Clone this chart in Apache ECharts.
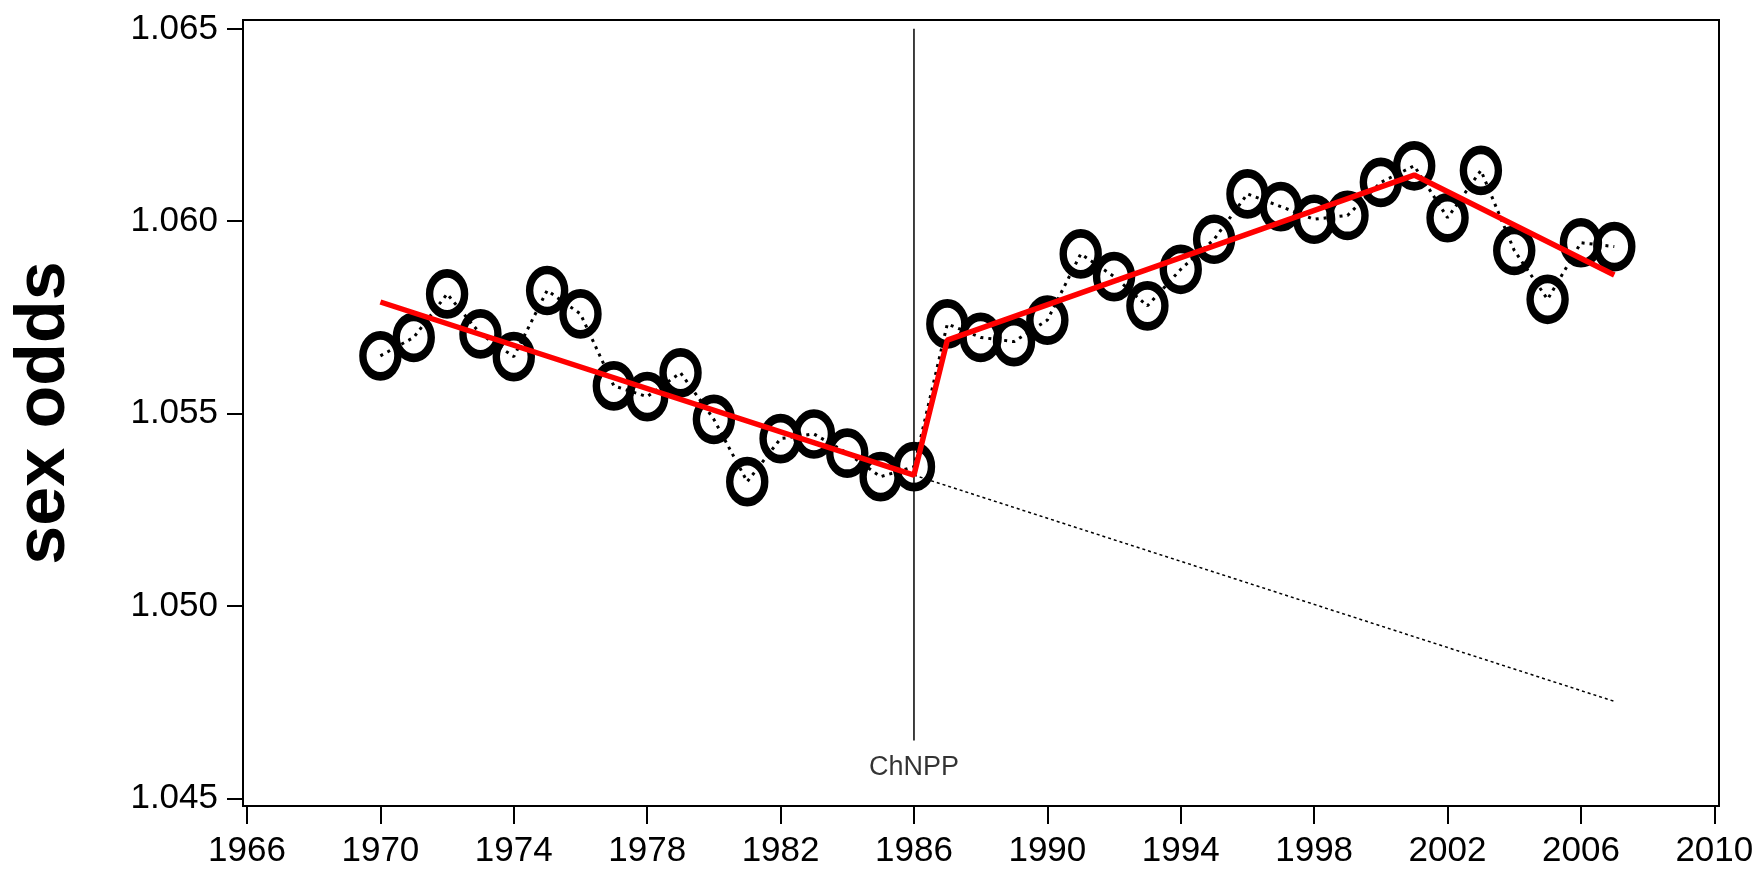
<!DOCTYPE html>
<html style="height: 100%">
  <head>
    <meta charset="UTF-8" />
    <title>sex odds</title>
    <script src="https://cdn.jsdelivr.net/npm/echarts@6/dist/echarts.min.js"></script>
  </head>
  <body style="height: 100%; margin: 0; background: #fff">
    <div id="main" style="width: 1758px; height: 872px"></div>
    <script>
      // yearly sex odds
      var years = [1970, 1971, 1972, 1973, 1974, 1975, 1976, 1977, 1978, 1979,
        1980, 1981, 1982, 1983, 1984, 1985, 1986, 1987, 1988, 1989, 1990, 1991,
        1992, 1993, 1994, 1995, 1996, 1997, 1998, 1999, 2000, 2001, 2002, 2003,
        2004, 2005, 2006, 2007];
      var sexOdds = [1.05650, 1.05698, 1.05811, 1.05707, 1.05648, 1.05820,
        1.05759, 1.05572, 1.05544, 1.05606, 1.05485, 1.05323, 1.05435, 1.05447,
        1.05397, 1.05336, 1.05362, 1.05733, 1.05698, 1.05687, 1.05743, 1.05915,
        1.05856, 1.05780, 1.05875, 1.05953, 1.06071, 1.06038, 1.06005, 1.06015,
        1.06101, 1.06144, 1.06009, 1.06132, 1.05924, 1.05797, 1.05944, 1.05934];

      // fitted trend (red) and its continuation without the jump
      var fitYears = [1970, 1986, 1987, 2001, 2007];
      var fitValues = [1.05790, 1.05340, 1.05691, 1.06120, 1.05860];
      var trendYears = [1986, 2007];
      var trendValues = [1.05340, 1.04752];

      // ChNPP marker
      var eventYear = 1986;
      var eventRange = [1.0465, 1.065];
      var eventLabel = 'ChNPP';
      var eventLabelValue = 1.04581;

      var xTicks = [1966, 1970, 1974, 1978, 1982, 1986, 1990, 1994, 1998, 2002, 2006, 2010];
      var yTicks = [1.045, 1.05, 1.055, 1.06, 1.065];

      function pairs(xs, ys) {
        return xs.map(function (x, i) { return [x, ys[i]]; });
      }

      var ellipse = 'path://M50,0A50,50,0,1,1,50,100A50,50,0,1,1,50,0Z';
      var font = 'Liberation Sans';

      var chart = echarts.init(document.getElementById('main'));
      chart.setOption({
        animation: false,
        backgroundColor: '#fff',
        textStyle: { fontFamily: font },
        grid: {
          left: 243, right: 39, top: 20, bottom: 66,
          show: true, borderColor: '#000', borderWidth: 2
        },
        xAxis: {
          type: 'value',
          min: 1965.88,
          max: 2010.14,
          splitLine: { show: false },
          axisLine: { lineStyle: { color: '#000', width: 2 } },
          axisTick: { customValues: xTicks, length: 18, lineStyle: { color: '#000', width: 2 } },
          axisLabel: {
            customValues: xTicks, margin: 28, color: '#000', fontSize: 35,
            fontFamily: font,
            formatter: function (v) { return String(v); }
          }
        },
        yAxis: {
          type: 'value',
          min: 1.0448,
          max: 1.06523,
          name: 'sex odds',
          nameLocation: 'middle',
          nameGap: 163,
          nameTextStyle: { fontSize: 70, fontWeight: 'bold', color: '#000', fontFamily: font },
          splitLine: { show: false },
          axisLine: { lineStyle: { color: '#000', width: 2 } },
          axisTick: { customValues: yTicks, length: 16, lineStyle: { color: '#000', width: 2 } },
          axisLabel: {
            customValues: yTicks, margin: 25, color: '#000', fontSize: 35,
            fontFamily: font,
            formatter: function (v) { return v.toFixed(3); }
          }
        },
        series: [
          {
            type: 'line',
            data: pairs(years, sexOdds),
            showSymbol: false,
            lineStyle: { color: '#000', width: 3, type: [3, 5] },
            z: 2
          },
          {
            type: 'scatter',
            data: pairs(years, sexOdds),
            symbol: ellipse,
            symbolSize: [35, 41],
            itemStyle: { color: 'rgba(0,0,0,0)', borderColor: '#000', borderWidth: 8, opacity: 1 },
            z: 3
          },
          {
            type: 'line',
            data: pairs(trendYears, trendValues),
            showSymbol: false,
            lineStyle: { color: '#000', width: 1.5, type: [3, 3] },
            z: 2
          },
          {
            type: 'line',
            data: [[eventYear, eventRange[0]], [eventYear, eventRange[1]]],
            showSymbol: false,
            lineStyle: { color: '#000', width: 1.5 },
            z: 2
          },
          {
            type: 'scatter',
            data: [[eventYear, eventLabelValue]],
            symbolSize: 0,
            label: {
              show: true, position: 'inside', formatter: eventLabel,
              fontSize: 27, color: '#000', fontFamily: font
            },
            z: 4
          },
          {
            type: 'line',
            data: pairs(fitYears, fitValues),
            showSymbol: false,
            lineStyle: { color: '#ff0000', width: 5.5 },
            z: 5
          }
        ]
      });
    </script>
  </body>
</html>
